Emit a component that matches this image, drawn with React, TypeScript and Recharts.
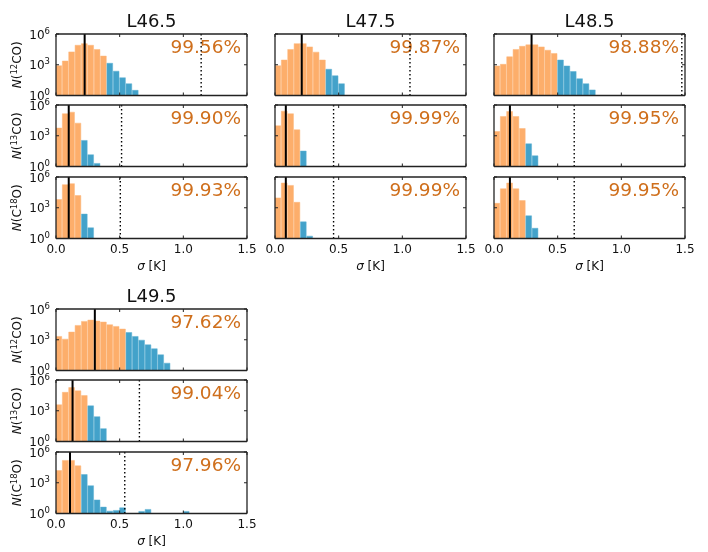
import React from "react";
import { BarChart, Bar, Cell, XAxis, YAxis, ReferenceLine } from "recharts";

const FONT = "'DejaVu Sans', sans-serif";
const ORANGE = "#fdae6b";
const BLUE = "#43a2ca";
const PCT = "#cf6f1c";
const BIN = 0.05;
const xTicks = [0, 0.5, 1.0, 1.5];
const yTicks = [1, 1000, 1000000];
const lineNames = ["12", "13", "18"];

// Bin counts, one array per panel; bins are 0.05 K wide and start at 0. Zero = empty bin.
const l465_12 = [800, 2300, 18000, 80000, 115000, 80000, 31000, 7000, 1400, 235, 54, 14, 3.2];
const l465_13 = [5600, 140000, 200000, 17000, 350, 14, 2];
const l465_18 = [6300, 178000, 224000, 15500, 240, 11];
const l475_12 = [800, 2900, 31000, 115000, 115000, 55000, 17000, 2900, 365, 84, 14];
const l475_13 = [9300, 250000, 140000, 3800, 32];
const l475_18 = [9100, 257000, 151000, 3400, 42, 1.7];
const l485_12 = [760, 1100, 6000, 31000, 63000, 87000, 87000, 55000, 26000, 12600, 2900, 760, 220, 43, 14, 3.5];
const l485_13 = [2600, 76000, 234000, 76000, 5100, 163, 11];
const l485_18 = [2700, 71000, 257000, 71000, 5000, 163, 10];
const l495_12 = [2100, 1150, 5600, 25000, 62000, 83000, 66000, 53000, 29000, 20000, 11000, 5100, 2100, 910, 320, 132, 34, 5.2];
const l495_13 = [3800, 63000, 182000, 87000, 30000, 3000, 263, 18];
const l495_18 = [15500, 151000, 151000, 45000, 6300, 510, 21, 4.2, 1.7, 2, 3.6, 0, 0, 1.6, 2.5, 0, 0, 0, 0, 0, 1.6];

const titles = ["L46.5", "L47.5", "L48.5", "L49.5"];
const seriesByRegion = [
  [l465_12, l465_13, l465_18],
  [l475_12, l475_13, l475_18],
  [l485_12, l485_13, l485_18],
  [l495_12, l495_13, l495_18],
];
const orangeBins = [
  [8, 4, 4],
  [8, 4, 4],
  [10, 5, 5],
  [11, 5, 4],
];
const solidX = [
  [0.225, 0.1, 0.1],
  [0.21, 0.085, 0.085],
  [0.295, 0.125, 0.125],
  [0.305, 0.13, 0.11],
];
const dottedX = [
  [1.14, 0.515, 0.505],
  [1.06, 0.46, 0.46],
  [1.475, 0.63, 0.63],
  [null, 0.655, 0.54],
];
const percents = [
  ["99.56%", "99.90%", "99.93%"],
  ["99.87%", "99.99%", "99.99%"],
  ["98.88%", "99.95%", "99.95%"],
  ["97.62%", "99.04%", "97.96%"],
];

// Layout (axes boxes)
const regionLeft = [56, 275.3, 494, 56];
const PANEL_W = 191;
const regionTops = [
  [33.7, 105, 176.7],
  [33.7, 105, 176.7],
  [33.7, 105, 176.7],
  [309.3, 380, 451.7],
];
const PANEL_H = 61.5;
const ML = 56, MT = 30, MR = 16, MB = 44;

const tickStroke = "#222";

function bottomTick(showLabel: boolean) {
  return (p: any) => (
    <g>
      <line x1={p.x} x2={p.x} y1={p.y} y2={p.y - 3} stroke={tickStroke} strokeWidth={1} />
      <line x1={p.x} x2={p.x} y1={p.y - PANEL_H} y2={p.y - PANEL_H + 3} stroke={tickStroke} strokeWidth={1} />
      {showLabel && (
        <text x={p.x} y={p.y + 14.5} textAnchor="middle" fontSize={12} fontFamily={FONT} fill="#111">
          {Number(p.payload.value).toFixed(1)}
        </text>
      )}
    </g>
  );
}
function leftTick(showLabel: boolean) {
  return (p: any) => {
    const exp = Math.round(Math.log10(p.payload.value));
    return (
      <g>
        <line x1={p.x} x2={p.x + 3} y1={p.y} y2={p.y} stroke={tickStroke} strokeWidth={1} />
        <line x1={p.x + PANEL_W} x2={p.x + PANEL_W - 3} y1={p.y} y2={p.y} stroke={tickStroke} strokeWidth={1} />
        {showLabel && (
          <text x={p.x - 6} y={p.y + 4.5} textAnchor="end" fontSize={12} fontFamily={FONT} fill="#111">
            10
            <tspan fontSize={8.5} dy={-5}>{exp}</tspan>
          </text>
        )}
      </g>
    );
  };
}

function YName({ code, x, y }: { code: string; x: number; y: number }) {
  const head = code === "18" ? "(C" : "(";
  const tail = code === "18" ? "O)" : "CO)";
  return (
    <text
      x={x}
      y={y}
      transform={`rotate(-90 ${x} ${y})`}
      textAnchor="middle"
      fontSize={12}
      fontFamily={FONT}
      fill="#111"
    >
      <tspan fontStyle="italic">N</tspan>
      {head}
      <tspan fontSize={8.5} dy={-4}>{code}</tspan>
      <tspan dy={4}>{tail}</tspan>
    </text>
  );
}

function Panel({ region, row }: { region: number; row: number }) {
  const counts = seriesByRegion[region][row];
  const nOrange = orangeBins[region][row];
  const data = counts
    .map((v, i) => ({ x: (i + 0.5) * BIN, range: [1, v], v, blue: i >= nOrange }))
    .filter((d) => d.v > 0);
  const left = regionLeft[region];
  const top = regionTops[region][row];
  const bottomRow = row === 2;
  const firstCol = left === 56;
  const dotted = dottedX[region][row];
  const axisProps = {
    tickLine: false,
    tickSize: 0,
    tickMargin: 0,
    allowDataOverflow: true,
    interval: 0,
    axisLine: { stroke: tickStroke, strokeWidth: 1.3 },
  } as any;
  return (
    <div style={{ position: "absolute", left: left - ML, top: top - MT }}>
      <BarChart
        width={ML + PANEL_W + MR}
        height={MT + PANEL_H + MB}
        data={data}
        margin={{ left: ML - 1, top: MT - 1, right: MR - 1, bottom: MB - 1 }}
        barCategoryGap={0}
      >
        <XAxis
          {...axisProps}
          dataKey="x"
          type="number"
          domain={[0, 1.5]}
          ticks={xTicks}
          height={1}
          tick={bottomTick(bottomRow)}
        />
        <XAxis
          {...axisProps}
          xAxisId="top"
          dataKey="x"
          orientation="top"
          type="number"
          domain={[0, 1.5]}
          height={1}
          tick={false}
        />
        <YAxis
          {...axisProps}
          type="number"
          scale="log"
          domain={[1, 1000000]}
          ticks={yTicks}
          width={1}
          tick={leftTick(firstCol)}
        />
        <YAxis
          {...axisProps}
          yAxisId="right"
          orientation="right"
          type="number"
          scale="log"
          domain={[1, 1000000]}
          width={1}
          tick={false}
        />
        <Bar dataKey="range" barSize={PANEL_W * BIN / 1.5} isAnimationActive={false} strokeWidth={0.5}>
          {data.map((d, i) => (
            <Cell key={i} fill={d.blue ? BLUE : ORANGE} stroke={d.blue ? "#5db0d2" : "#fdb67a"} />
          ))}
        </Bar>
        <ReferenceLine x={solidX[region][row]} stroke="#000" strokeWidth={2} ifOverflow="hidden" />
        {dotted !== null && (
          <ReferenceLine x={dotted} stroke="#000" strokeWidth={1.4} strokeDasharray="1.5 2.5" ifOverflow="hidden" />
        )}
        <text x={ML + 185} y={MT + 18.5} textAnchor="end" fontSize={18.5} fontFamily={FONT} fill={PCT}>
          {percents[region][row]}
        </text>
        {row === 0 && (
          <text x={ML + PANEL_W / 2} y={MT - 7} textAnchor="middle" fontSize={18} fontFamily={FONT} fill="#111">
            {titles[region]}
          </text>
        )}
        {firstCol && <YName code={lineNames[row]} x={21} y={MT + PANEL_H / 2} />}
        {bottomRow && (
          <text x={ML + PANEL_W / 2} y={MT + PANEL_H + 31} textAnchor="middle" fontSize={12} fontFamily={FONT} fill="#111">
            <tspan fontStyle="italic">σ</tspan> [K]
          </text>
        )}
      </BarChart>
    </div>
  );
}

export default function App() {
  return (
    <div
      style={{
        position: "absolute",
        left: 0,
        top: 0,
        width: 708,
        height: 552,
        background: "#fff",
        overflow: "hidden",
        filter: "blur(0.4px)",
      }}
    >
      {titles.map((_, region) =>
        [0, 1, 2].map((row) => <Panel key={`${region}-${row}`} region={region} row={row} />)
      )}
    </div>
  );
}
